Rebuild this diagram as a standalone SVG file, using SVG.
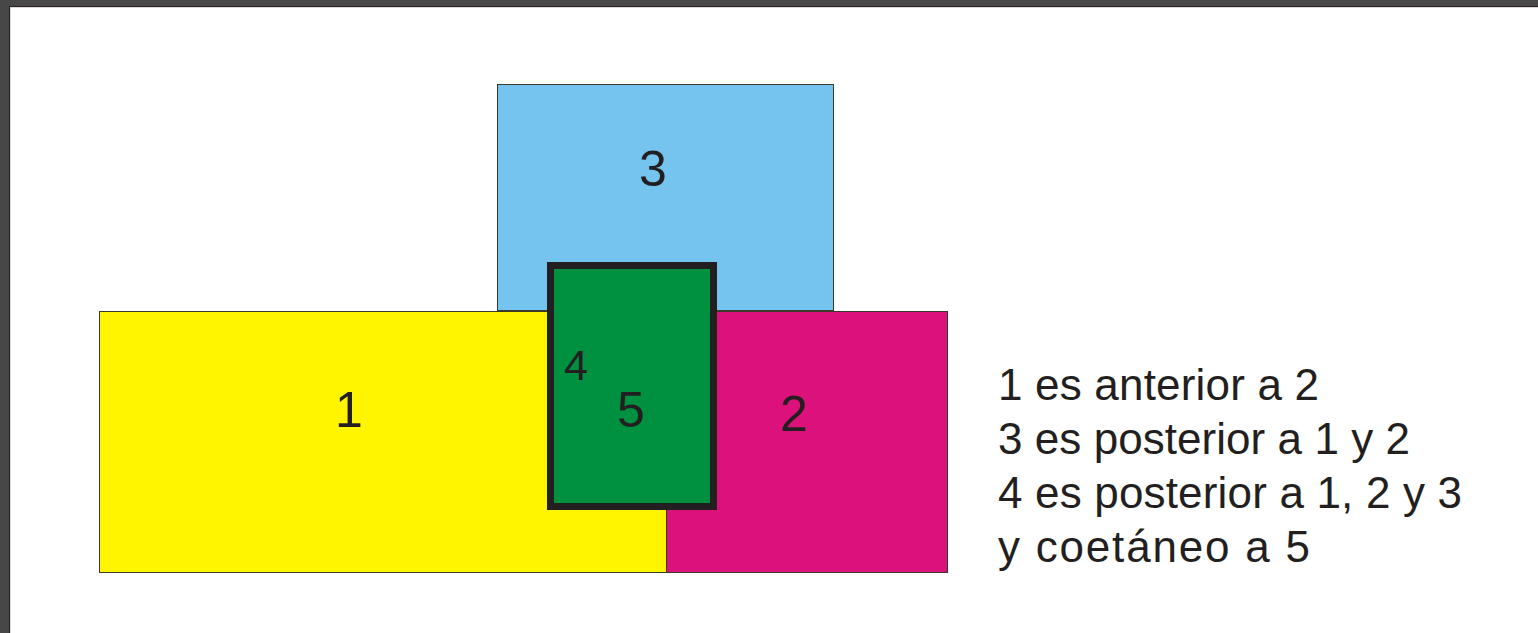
<svg xmlns="http://www.w3.org/2000/svg" width="1538" height="633" viewBox="0 0 1538 633">
<style>
.lbl{font-family:"Liberation Sans",Arial,sans-serif;fill:#231F20;text-anchor:middle}
.note{font-family:"Liberation Sans",Arial,sans-serif;fill:#231F20;font-size:44px}
.box{stroke:#3a3a2a;stroke-width:1}
</style>
<rect x="0" y="0" width="1538" height="633" fill="#474747"/>
<rect x="9" y="6" width="1529" height="627" fill="#2a2020"/>
<rect x="10" y="7" width="1528" height="626" fill="#d8d8d8"/>
<rect x="11" y="8" width="1527" height="625" fill="#ffffff"/>
<g id="n3"><rect class="box" x="497.5" y="84.5" width="336" height="226" fill="#75C4EF"/><text class="lbl" x="653" y="186" font-size="50">3</text></g>
<g id="n1"><rect class="box" x="99.5" y="311.5" width="567" height="261" fill="#FFF500"/><text class="lbl" x="349" y="427" font-size="50">1</text></g>
<g id="n2"><rect class="box" x="666.5" y="311.5" width="281" height="261" fill="#DC117C"/><text class="lbl" x="794" y="431" font-size="50">2</text></g>
<g id="n45"><rect x="550.5" y="265.5" width="163" height="241" fill="#009140" stroke="#231F20" stroke-width="7"/><text class="lbl" x="576" y="380" font-size="43">4</text><text class="lbl" x="631" y="427" font-size="50">5</text></g>
<g id="connectors"></g>
<g id="legend">
<text class="note" x="998" y="400" textLength="321" lengthAdjust="spacing">1 es anterior a 2</text>
<text class="note" x="998" y="454" textLength="412" lengthAdjust="spacing">3 es posterior a 1 y 2</text>
<text class="note" x="998" y="508" textLength="464" lengthAdjust="spacing">4 es posterior a 1, 2 y 3</text>
<text class="note" x="998" y="562" textLength="312" lengthAdjust="spacing">y coetáneo a 5</text>
</g>
</svg>
